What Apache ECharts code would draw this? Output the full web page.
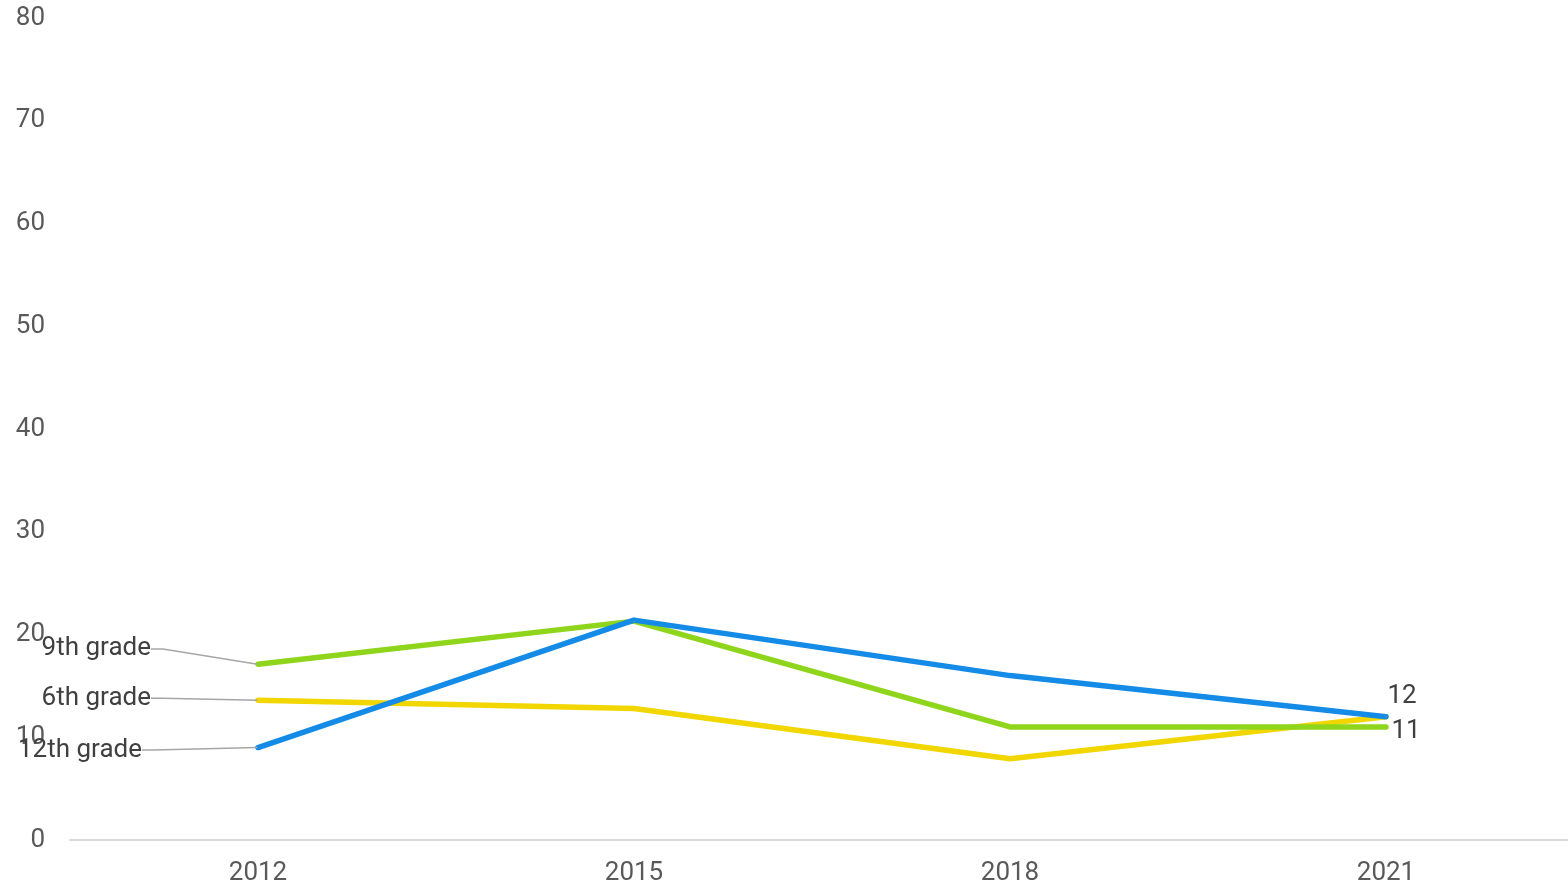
<!DOCTYPE html>
<html>
<head>
<meta charset="utf-8">
<script src="https://cdn.jsdelivr.net/npm/echarts@6/dist/echarts.min.js"></script>
<style>
  html, body { margin: 0; padding: 0; background: #fff; }
  #chart { width: 1568px; height: 885px; }
</style>
</head>
<body>
<div id="chart"></div>
<script>
// data
var years = ["2012", "2015", "2018", "2021"];
var grade6 = [13.6, 12.8, 7.9, 12];
var grade9 = [17.1, 21.3, 11, 11];
var grade12 = [9, 21.4, 16, 12];
var yTicks = [0, 10, 20, 30, 40, 50, 60, 70, 80];

// where the left name labels sit (label y in value units)
var nameSpots = { "6th grade": 13.8, "9th grade": 18.6, "12th grade": 8.75 };
// nudges for the value labels at the right end, px
var endNudge = { "9th grade": [20, 5], "12th grade": [16, -20] };

var chart = echarts.init(document.getElementById("chart"));
var font = "Roboto, 'Liberation Sans', sans-serif";

function withLabels(values, name, showEnd) {
  return values.map(function (v, i) {
    if (i === 0) {
      return {
        value: v,
        label: {
          show: true,
          position: "left",
          formatter: name,
          color: "#404040",
          fontSize: 26,
          fontFamily: font,
          padding: [0, 9, 0, 0]
        }
      };
    }
    if (i === values.length - 1 && showEnd) {
      return {
        value: v,
        label: {
          show: true,
          position: "inside",
          formatter: function (p) { return Math.round(p.value); },
          color: "#404040",
          fontSize: 26,
          fontFamily: font
        },
        labelLine: { show: false }
      };
    }
    return v;
  });
}

function makeSeries(name, values, color, showEnd) {
  return {
    name: name,
    type: "line",
    data: withLabels(values, name, showEnd),
    symbol: "circle",
    symbolSize: 1,
    showSymbol: true,
    lineStyle: { color: color, width: 5.5, cap: "round", join: "round" },
    itemStyle: { color: color },
    label: { show: false },
    labelLine: {
      show: true,
      length2: 12,
      lineStyle: { color: "#a6a6a6", width: 1.5 }
    },
    labelLayout: function (p) {
      if (p.dataIndex === 0) {
        var y = chart.convertToPixel({ yAxisIndex: 0 }, nameSpots[name]);
        return { x: name === "12th grade" ? 151 : 160, y: y, align: "right", verticalAlign: "middle" };
      }
      if (p.dataIndex === values.length - 1 && endNudge[name]) {
        return { dx: endNudge[name][0], dy: endNudge[name][1] };
      }
      return {};
    }
  };
}

var option = {
  animation: false,
  grid: { left: 70, top: 18, width: 1504, bottom: 45, outerBoundsMode: "none" },
  xAxis: {
    type: "category",
    data: years,
    boundaryGap: true,
    axisLine: { lineStyle: { color: "#d9d9d9", width: 2 } },
    axisTick: { show: false },
    axisLabel: { color: "#595959", fontSize: 26, fontFamily: font, margin: 20 }
  },
  yAxis: {
    type: "value",
    min: yTicks[0],
    max: yTicks[yTicks.length - 1],
    interval: 10,
    splitLine: { show: false },
    axisLine: { show: false },
    axisTick: { show: false },
    axisLabel: { color: "#595959", fontSize: 26, fontFamily: font, margin: 25 }
  },
  series: [
    makeSeries("6th grade", grade6, "#f2d600", false),
    makeSeries("9th grade", grade9, "#8fd51c", true),
    makeSeries("12th grade", grade12, "#148be6", true)
  ]
};

chart.setOption(option);
</script>
</body>
</html>
